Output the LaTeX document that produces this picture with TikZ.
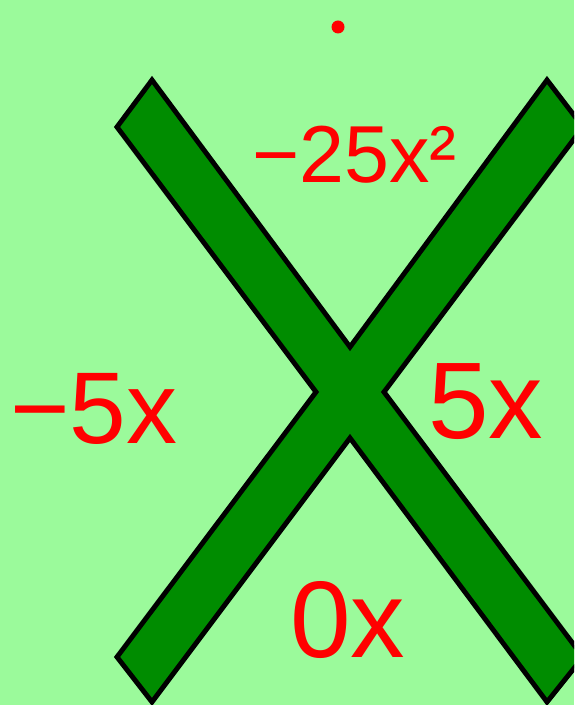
\documentclass[tikz,border=0pt]{standalone}
\usepackage{fontspec}
\setmainfont{Liberation Sans}
\usetikzlibrary{positioning}
\definecolor{paleback}{RGB}{155,250,155}
\definecolor{crossgreen}{RGB}{0,140,0}
\tikzset{bar/.style={draw=black, line width=2.8pt, line join=miter, fill=crossgreen},
  term/.style={text=red, inner sep=0pt, anchor=base west}}

\begin{document}
\begin{tikzpicture}[x=0.02cm, y=-0.02cm]
  \useasboundingbox (0,0) rectangle (574,705);
  \clip (0,0) rectangle (574,705);
  \fill[paleback] (0,0) rectangle (574,705);
  % the cross
  \draw[bar] (152,80) -- (350,347) -- (547,80) -- (583,127) -- (384,392)
    -- (583,657) -- (547,702) -- (350,438) -- (152,702) -- (117,657)
    -- (316,392) -- (117,127) -- cycle;
  % dot above
  \fill[red] (338,27) circle[radius=0.13cm];
  % terms
  \node[term, font=\fontsize{46}{50}\selectfont] (prod) at (252,183) {−25x²};
  \node[term, font=\fontsize{58}{62}\selectfont] (left) at (10,443) {−5x};
  \node[term, font=\fontsize{62}{66}\selectfont] (right) at (428,438) {5x};
  \node[term, font=\fontsize{62}{66}\selectfont] (sum) at (290,657) {0x};
\end{tikzpicture}
\end{document}
